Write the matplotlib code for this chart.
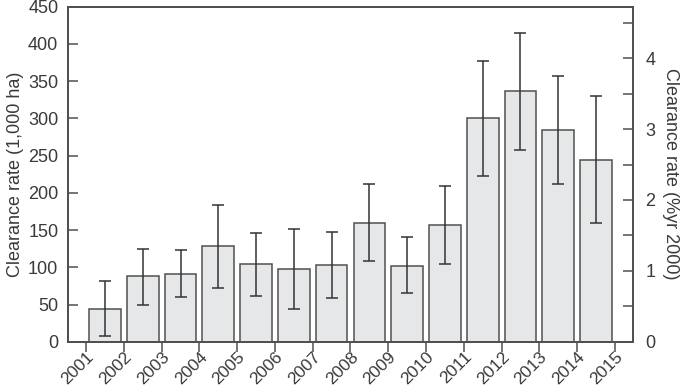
import numpy as np
import matplotlib
matplotlib.use('Agg')
import matplotlib.pyplot as plt

plt.rcParams['font.family'] = ['Liberation Sans', 'DejaVu Sans']

# Data
years = ['2001', '2002', '2003', '2004', '2005', '2006', '2007', '2008',
         '2009', '2010', '2011', '2012', '2013', '2014', '2015']
clearance = [44, 88, 91, 128, 104, 98, 103, 160, 102, 157, 300, 337, 285, 244]
err_hi = [81, 125, 123, 184, 146, 151, 147, 212, 140, 209, 377, 415, 357, 330]
err_lo = [8, 50, 60, 72, 61, 44, 59, 108, 65, 104, 223, 257, 212, 159]

# 1 % of year-2000 forest area, in 1,000 ha
pct_unit = 95.2

text_col = '#3a3a3a'
edge_col = '#505050'

fig = plt.figure(figsize=(6.85, 3.91), dpi=100)
ax = fig.add_axes([0.0993, 0.126, 0.8247, 0.857])

x = np.arange(len(clearance)) + 0.5
vals = np.array(clearance)
yerr = [vals - np.array(err_lo), np.array(err_hi) - vals]

ax.bar(x, vals, width=0.84, color='#e6e7e8', edgecolor=edge_col, linewidth=1.1, zorder=2)
ax.errorbar(x, vals, yerr=yerr, fmt='none', ecolor='#333333', elinewidth=1.1,
            capsize=4, capthick=1.1, zorder=3)

ax.set_xlim(-0.48, 14.48)
ax.set_ylim(0, 450)
ax.set_yticks(np.arange(0, 451, 50))
ax.set_xticks(np.arange(len(years)))
ax.set_xticklabels(years, rotation=45, ha='right', va='top', rotation_mode='anchor')

ax.set_ylabel('Clearance rate (1,000 ha)', fontsize=13, color=text_col, labelpad=3)

ax.tick_params(axis='y', direction='in', length=7, width=1.1, labelsize=13,
               colors=edge_col, labelcolor=text_col, pad=7)
ax.tick_params(axis='x', direction='out', length=7, width=1.1, labelsize=12.5,
               colors=edge_col, labelcolor=text_col, pad=-1.5)

ax2 = ax.twinx()
ax2.set_ylim(0, 450 / pct_unit)
ax2.set_yticks(np.arange(0, 4.6, 0.5))
ax2.set_yticklabels([str(int(t)) if t == int(t) else '' for t in np.arange(0, 4.6, 0.5)])
ax2.tick_params(axis='y', direction='in', length=7, width=1.1, labelsize=13,
                colors=edge_col, labelcolor=text_col, pad=9)
ax2.set_ylabel('Clearance rate (%yr 2000)', fontsize=13, color=text_col,
               rotation=270, labelpad=17)

for a in (ax, ax2):
    for s in a.spines.values():
        s.set_color(edge_col)
        s.set_linewidth(1.3)

fig.savefig('out.png', dpi=100)
